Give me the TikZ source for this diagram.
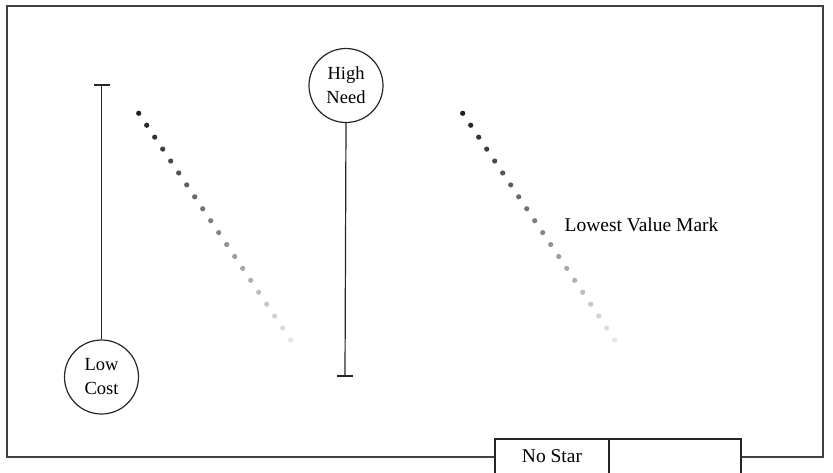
\documentclass[tikz,border=0pt]{standalone}
\usepackage{fontspec}
\setmainfont{Liberation Serif}
\begin{document}
\begin{tikzpicture}[x=1pt,y=-1pt,
  line width=1.2pt,
  ink/.style={draw=black!85},
  labelcircle/.style={circle,ink,fill=white,minimum size=74pt,inner sep=0pt,
    align=center,font=\fontsize{18.5}{24}\selectfont},
  cell/.style={ink,fill=white},
  lbl/.style={font=\fontsize{19.5}{22}\selectfont,inner sep=0pt}]
\useasboundingbox (0,0) rectangle (833,472);
\clip (0,0) rectangle (833,472);

% outer frame
\draw[draw=black!75] (7,6) rectangle (823,457);

% left marker: bar with cap on top, circle at the bottom
\node[labelcircle] (lowcost) at (101.5,377) {Low\\Cost};
\coordinate (lowtop) at (101.5,85);
\draw[ink] (lowcost.north) -- (lowtop);
\draw[ink] ([xshift=-8pt]lowtop) -- ([xshift=8pt]lowtop);

% middle marker: circle on top, bar with cap at the bottom
\node[labelcircle] (highneed) at (346,85.5) {High\\Need};
\coordinate (highbot) at (345,376);
\draw[ink] (highneed.south) -- (highbot);
\draw[ink] ([xshift=-8pt]highbot) -- ([xshift=8pt]highbot);

% two fading dotted diagonals
\foreach \sx in {138.7,462.7}{
  \foreach \i in {0,...,19}{
    \pgfmathsetmacro{\shade}{88-\i*78/19}
    \fill[black!\shade] (\sx+\i*8.0,113.3+\i*11.93) circle (2.6pt);
  }
}

\node[lbl,anchor=west] (lowest) at (564,225) {Lowest Value Mark};

% bottom legend cells
\draw[cell] (495,439) rectangle (609,490);
\draw[cell] (609,439) rectangle (741,490);
\node[lbl] (nostar) at (552,456) {No Star};
\end{tikzpicture}
\end{document}
